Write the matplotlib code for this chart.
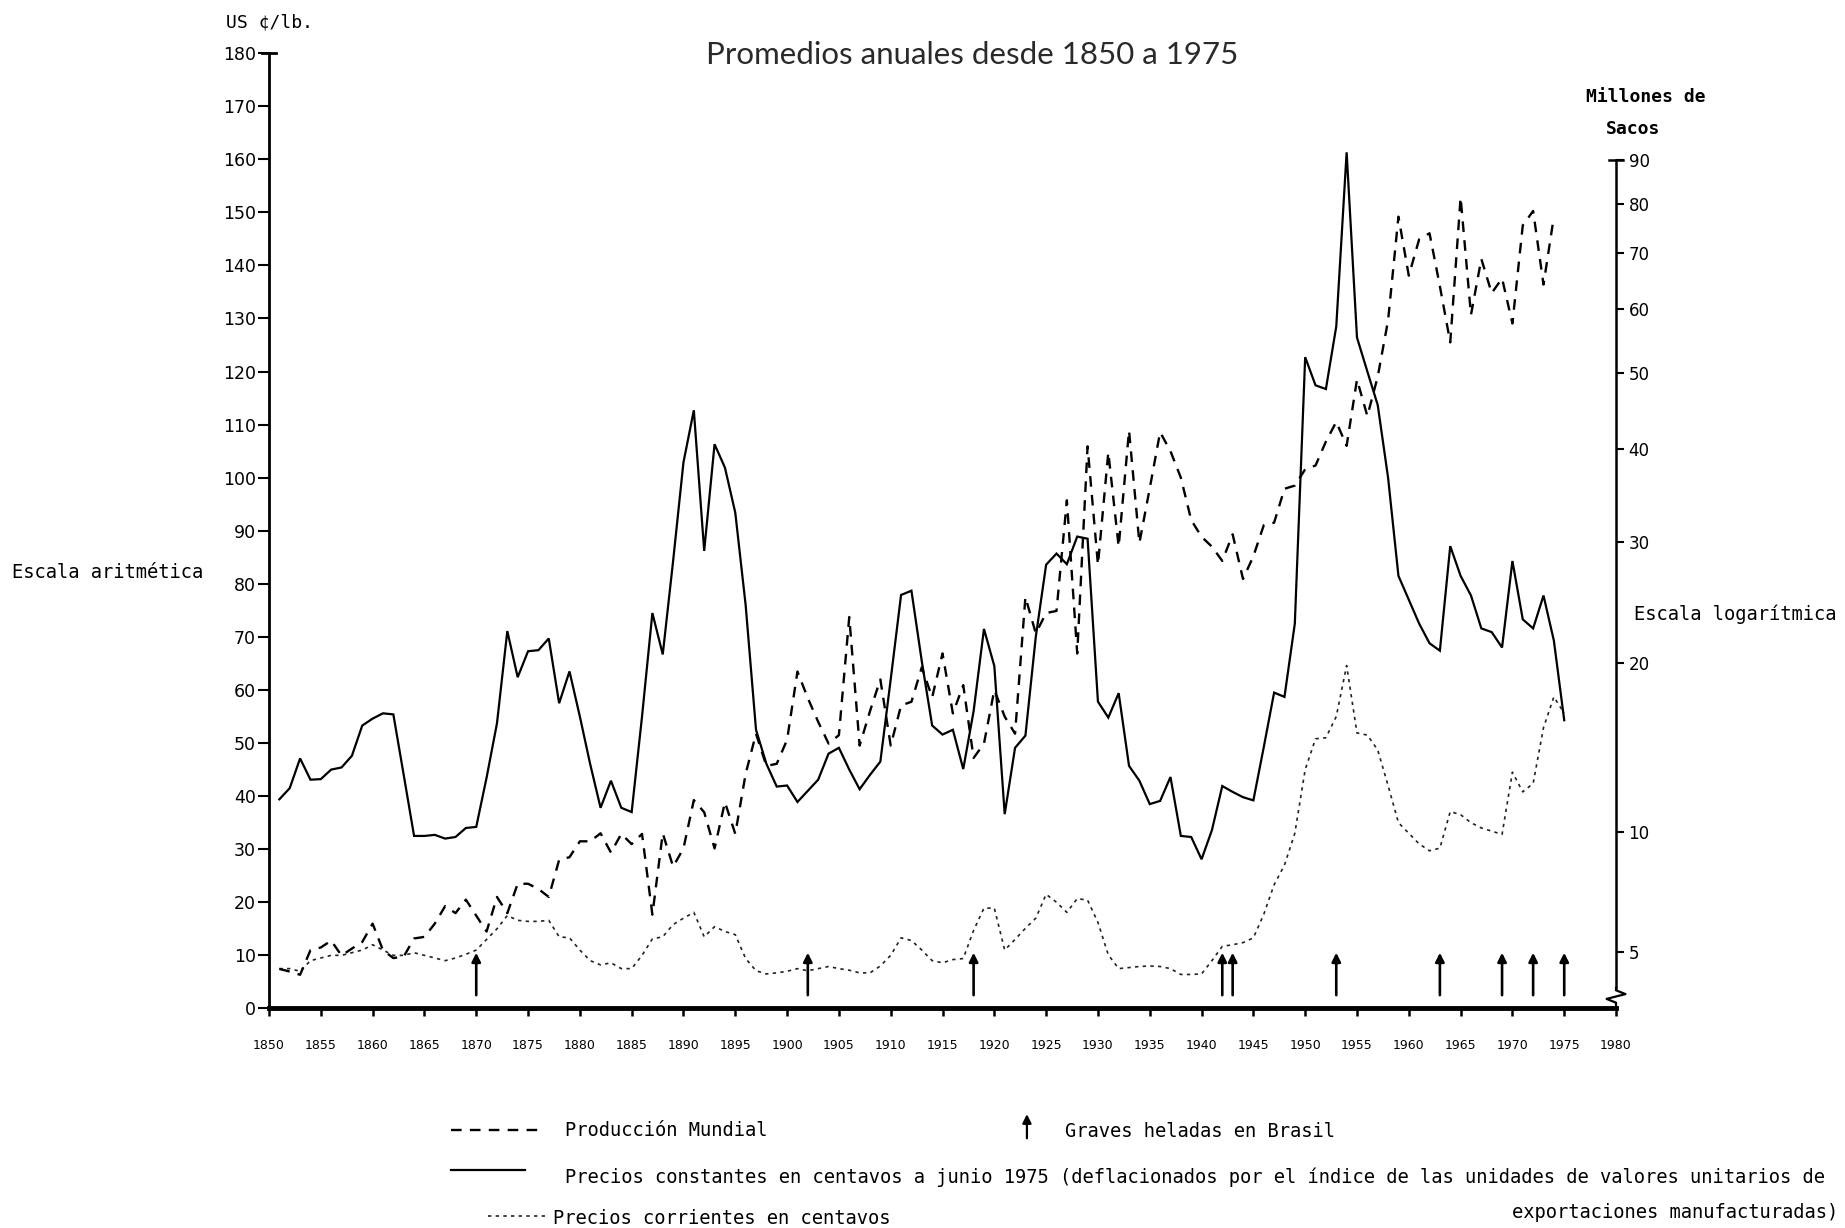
import numpy as np
import matplotlib
matplotlib.use("Agg")
import matplotlib.pyplot as plt
from matplotlib.lines import Line2D
from matplotlib.ticker import NullLocator
from matplotlib.transforms import blended_transform_factory

# datos (promedios anuales)
anios = list(range(1851, 1976))
anios_prod = list(range(1851, 1975))

# precios constantes, centavos US por libra (junio 1975)
precio_constante = [
    39.4, 41.5, 47.1, 43.1, 43.2, 45.0, 45.4, 47.6, 53.3, 54.6,
    55.6, 55.4, 44.0, 32.5, 32.5, 32.7, 32.0, 32.3, 34.0, 34.2,
    43.5, 53.7, 71.1, 62.4, 67.3, 67.5, 69.7, 57.5, 63.5, 55.0,
    46.0, 37.8, 42.9, 37.8, 37.0, 55.0, 74.5, 66.7, 84.3, 102.9,
    112.7, 86.2, 106.3, 101.9, 93.4, 76.0, 52.5, 46.1, 41.8, 42.0,
    38.9, 41.0, 43.1, 48.0, 49.1, 45.0, 41.3, 44.0, 46.5, 62.0,
    77.9, 78.7, 65.4, 53.3, 51.6, 52.5, 45.1, 56.0, 71.5, 64.5,
    36.6, 49.1, 51.4, 70.0, 83.6, 85.7, 83.7, 88.9, 88.5, 57.8,
    54.8, 59.4, 45.7, 42.9, 38.5, 39.1, 43.6, 32.5, 32.3, 28.1,
    33.6, 41.9, 40.8, 39.8, 39.2, 49.2, 59.5, 58.7, 72.5, 122.7,
    117.4, 116.7, 128.5, 161.3, 126.4, 120.0, 113.7, 100.0, 81.5, 77.0,
    72.5, 68.8, 67.4, 87.1, 81.5, 77.8, 71.6, 70.9, 68.0, 84.3,
    73.3, 71.6, 77.8, 69.3, 54.3,
]

# precios corrientes, centavos US por libra
precio_corriente = [
    7.5, 7.5, 7.0, 9.0, 9.5, 10.0, 10.0, 10.5, 11.0, 12.0,
    11.0, 10.0, 10.0, 10.5, 10.0, 9.5, 9.0, 9.5, 10.2, 11.0,
    13.0, 15.0, 17.5, 16.6, 16.4, 16.4, 16.6, 13.5, 13.3, 11.0,
    9.0, 8.2, 8.6, 7.5, 7.5, 10.0, 13.1, 13.5, 15.8, 17.0,
    18.1, 13.5, 15.4, 14.5, 13.9, 9.4, 7.1, 6.5, 6.7, 7.0,
    7.5, 7.1, 7.5, 7.9, 7.5, 7.2, 6.7, 6.7, 8.0, 10.0,
    13.3, 12.8, 11.0, 9.0, 8.6, 9.2, 9.4, 14.7, 18.9, 18.9,
    11.0, 13.0, 15.1, 17.0, 21.5, 20.0, 18.1, 20.7, 20.4, 16.2,
    10.1, 7.5, 7.7, 7.9, 8.0, 7.9, 7.5, 6.4, 6.4, 6.5,
    9.0, 11.7, 12.0, 12.4, 13.3, 17.7, 23.3, 27.0, 33.0, 45.0,
    50.8, 51.0, 55.0, 64.6, 51.9, 51.5, 48.7, 42.0, 35.0, 33.0,
    31.0, 29.7, 30.2, 37.1, 36.5, 35.0, 34.0, 33.4, 32.8, 44.5,
    40.8, 42.4, 52.9, 58.7, 55.6,
]

# produccion mundial, millones de sacos
produccion = [
    4.40, 4.31, 4.20, 5.06, 5.16, 5.41, 4.87, 5.12, 5.36, 6.05,
    5.06, 4.78, 4.83, 5.49, 5.55, 6.05, 6.74, 6.46, 7.00, 6.36,
    5.75, 7.11, 6.46, 7.66, 7.66, 7.44, 7.11, 8.70, 8.82, 9.55,
    9.55, 9.93, 9.03, 9.90, 9.42, 9.90, 6.40, 9.93, 8.40, 9.22,
    11.58, 10.96, 9.22, 11.47, 9.90, 12.98, 15.30, 13.42, 13.54, 14.93,
    19.36, 17.55, 16.03, 14.71, 15.21, 23.46, 14.59, 16.70, 18.81, 14.59,
    17.07, 17.31, 19.66, 17.60, 20.66, 16.56, 18.42, 13.87, 14.71, 18.09,
    16.36, 15.30, 25.10, 22.18, 23.78, 23.95, 34.25, 20.66, 40.36, 27.92,
    39.65, 29.60, 42.30, 29.95, 35.55, 42.10, 39.78, 36.72, 32.21, 30.55,
    29.60, 28.27, 30.79, 26.65, 28.70, 31.68, 31.94, 35.49, 35.84, 37.67,
    38.10, 40.94, 43.40, 40.42, 49.10, 44.15, 49.50, 58.10, 77.30, 65.80,
    72.70, 73.90, 63.90, 54.60, 81.40, 59.00, 68.90, 62.70, 65.30, 57.60,
    75.50, 78.50, 64.20, 77.30,
]

# graves heladas en Brasil
heladas = [1870, 1902, 1918, 1942, 1943, 1953, 1963, 1969, 1972, 1975]

ticks_izq = list(range(0, 181, 10))
ticks_der = [5, 10, 20, 30, 40, 50, 60, 70, 80, 90]
ticks_x = list(range(1850, 1981, 5))

plt.rcParams['font.family'] = ['DejaVu Sans']
mono = ['DejaVu Sans Mono']


def fwd(v):
    # escala "logaritmica" tal como esta dibujada en el original
    return np.log10(np.maximum(np.asarray(v, dtype=float) + 10.0, 1e-6))


def inv(u):
    return 10.0 ** np.asarray(u, dtype=float) - 10.0


fig = plt.figure(figsize=(18.45, 12.28), dpi=100)
ax = fig.add_axes([0.1458, 0.1788, 0.7301, 0.778])
ax2 = ax.twinx()

# series
ax.plot(anios, precio_constante, color='black', lw=1.6, solid_joinstyle='miter')
ax.plot(anios, precio_corriente, color='#222222', lw=1.2, linestyle=(0, (2, 2.6)))
ax2.plot(anios_prod, produccion, color='black', lw=1.7, linestyle=(0, (4.5, 3.5)))

for yr in heladas:
    ax.annotate('', xy=(yr, 10.5), xytext=(yr, 2.5),
                arrowprops=dict(arrowstyle='-|>', color='black', lw=1.9,
                                mutation_scale=13, shrinkA=0, shrinkB=0))

# eje izquierdo
ax.set_xlim(1850, 1980)
ax.set_ylim(0, 180)
ax.set_yticks(ticks_izq)
ax.set_yticklabels([str(t) for t in ticks_izq])
ax.set_xticks(ticks_x)
ax.set_xticklabels([str(t) for t in ticks_x])
ax.tick_params(axis='y', direction='out', length=8, width=1.5, labelsize=12.5, pad=1.5)
ax.tick_params(axis='x', direction='out', length=6, width=1.8, labelsize=9, pad=16)
ax.spines['top'].set_visible(False)
ax.spines['right'].set_visible(False)
ax.spines['left'].set_linewidth(2.0)
ax.spines['bottom'].set_linewidth(3.5)
ax.plot([-0.005, 0.005], [1, 1], transform=ax.transAxes, color='black', lw=2, clip_on=False)

# eje derecho (millones de sacos)
ax2.set_yscale('function', functions=(fwd, inv))
ax2.set_ylim(3.1, 119.2)
ax2.set_yticks(ticks_der)
ax2.set_yticklabels([str(t) for t in ticks_der])
ax2.yaxis.set_minor_locator(NullLocator())
ax2.tick_params(axis='y', direction='out', length=6, width=1.5, labelsize=12, pad=3)
for s in ['top', 'left', 'bottom']:
    ax2.spines[s].set_visible(False)
ax2.spines['right'].set_linewidth(1.8)
ax2.spines['right'].set_bounds(3.75, 90)
tr = blended_transform_factory(ax2.transAxes, ax2.transData)
ax2.plot([0.995, 1.005], [90, 90], transform=tr, color='black', lw=1.8, clip_on=False)
ax2.plot([1.0, 1.0, 1.007, 0.993, 1.0, 1.0], [0.0215, 0.019, 0.015, 0.01, 0.006, 0.0],
         transform=ax2.transAxes, color='black', lw=1.6, clip_on=False)

# textos
fig.text(0.527, 0.955, 'Promedios anuales desde 1850 a 1975', ha='center', va='center',
         fontsize=22.5, family=['Lato', 'DejaVu Sans'], color='#2a2a2a')
fig.text(0.146, 0.982, 'US ¢/lb.', ha='center', va='center', fontsize=13, family=mono)
fig.text(0.0065, 0.5334, 'Escala aritmética', ha='left', va='center', fontsize=13.5, family=mono)
fig.text(0.8919, 0.9214, 'Millones de', ha='center', va='center', fontsize=13,
         family=mono, fontweight='bold')
fig.text(0.8852, 0.8946, 'Sacos', ha='center', va='center', fontsize=13,
         family=mono, fontweight='bold')
fig.text(0.8859, 0.4998, 'Escala logarítmica', ha='left', va='center', fontsize=13.5, family=mono)

# leyenda
fig.add_artist(Line2D([0.2444, 0.2932], [0.0798, 0.0798], color='black', lw=1.7,
                      linestyle=(0, (4.5, 3.5)), transform=fig.transFigure))
fig.text(0.3062, 0.0798, 'Producción Mundial', ha='left', va='center', fontsize=13.5, family=mono)
fig.add_artist(Line2D([0.2444, 0.2846], [0.0472, 0.0472], color='black', lw=1.6,
                      transform=fig.transFigure))
fig.text(0.3062, 0.0415,
         'Precios constantes en centavos a junio 1975 (deflacionados por el índice de las unidades de valores unitarios de',
         ha='left', va='center', fontsize=13.5, family=mono)
fig.text(0.9962, 0.0130, 'exportaciones manufacturadas)', ha='right', va='center',
         fontsize=13.5, family=mono)
fig.add_artist(Line2D([0.2645, 0.2965], [0.0098, 0.0098], color='#222222', lw=1.2,
                      linestyle=(0, (2, 2.6)), transform=fig.transFigure))
fig.text(0.2997, 0.0080, 'Precios corrientes en centavos', ha='left', va='center',
         fontsize=13.5, family=mono)
fig.patches.append(matplotlib.patches.FancyArrowPatch(
    (0.5566, 0.0708), (0.5566, 0.0950), transform=fig.transFigure, arrowstyle='-|>',
    mutation_scale=13, color='black', lw=1.6))
fig.text(0.5772, 0.0782, 'Graves heladas en Brasil', ha='left', va='center', fontsize=13.5, family=mono)

fig.savefig('out.png', dpi=100, facecolor='white')
